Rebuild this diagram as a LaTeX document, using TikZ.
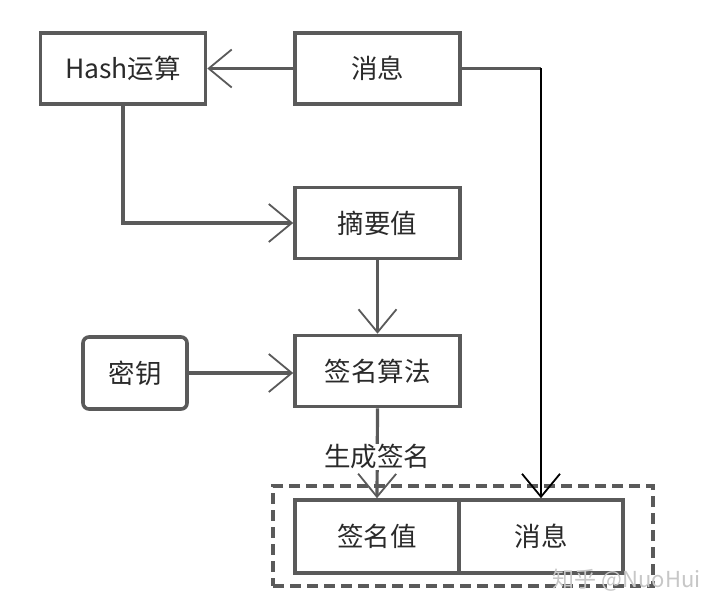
\documentclass[tikz,border=0pt]{standalone}
\usepackage{fontspec}
\setmainfont{Noto Sans CJK SC}
\usetikzlibrary{arrows.meta,shadows}
\definecolor{ln}{HTML}{5A5A5A}
\definecolor{tx}{HTML}{2A2A2A}
\begin{document}
\begin{tikzpicture}[x=1pt,y=-1pt,
  box/.style={draw=ln, line width=3.6pt, fill=white, minimum height=71pt, minimum width=165pt,
    inner sep=0pt, font=\fontsize{26.5}{30}\selectfont, text=tx},
  conn/.style={draw=ln, line width=3.2pt, -{Straight Barb[length=23pt,width=38pt,line width=1.8pt]}},
  thinconn/.style={draw=black, line width=1.8pt, -{Straight Barb[length=23pt,width=38pt,line width=1.8pt]}},
  lbl/.style={fill=white, inner sep=1pt, font=\fontsize{26.5}{30}\selectfont, text=tx}
]
\useasboundingbox (0,0) rectangle (720,610);
\fill[white] (0,0) rectangle (720,610);

\node[box] (hash) at (123,68.5) {Hash运算};
\node[box] (msg) at (377.5,68.5) {消息};
\node[box] (digest) at (377.5,223) {摘要值};
\node[box] (alg) at (377.5,371) {签名算法};
\node[box, minimum width=104pt, minimum height=72pt, rounded corners=6pt,
  drop shadow={shadow xshift=1.5pt, shadow yshift=-1.5pt, fill=black!30}] (key) at (135,373) {密钥};

\node[draw=ln, line width=3.4pt, dash pattern=on 11pt off 6pt, minimum width=380pt, minimum height=100pt, inner sep=0pt] (group) at (463,536) {};
\node[box, minimum width=164pt, minimum height=73pt] (sigv) at (377,536.5) {签名值};
\node[box, minimum width=164pt, minimum height=73pt] (msgb) at (541,536.5) {消息};

\coordinate (corner) at (msg.east -| msgb.north);
\draw[conn] (msg.west) -- (hash.east);
\draw[conn] (hash.south) |- (digest.west);
\draw[conn] (digest.south) -- (alg.north);
\draw[conn] (key.east) -- (key.east -| alg.west);
\draw[conn] (alg.south) -- node[lbl, pos=0.54] (gen) {生成签名} (sigv.north);
\draw[draw=ln, line width=3.2pt] (msg.east) -- (corner);
\draw[thinconn] (corner) -- (msgb.north);

\node[text=black!22, font=\fontsize{22}{26}\selectfont, anchor=east] (wm) at (704,580) {知乎 @NuoHui};
\end{tikzpicture}
\end{document}
